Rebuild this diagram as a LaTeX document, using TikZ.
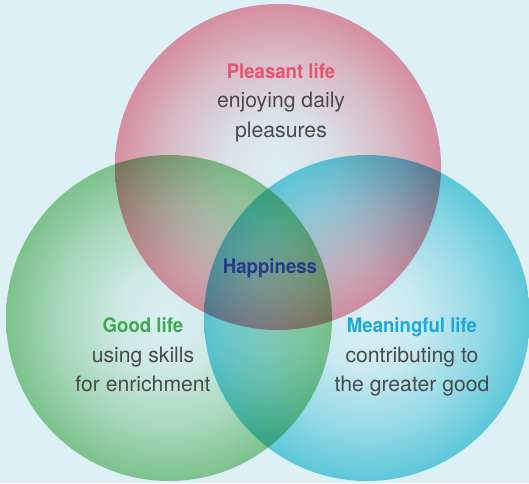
\documentclass[tikz,border=0pt]{standalone}
\usepackage{fontspec}
\setmainfont{TeX Gyre Heros}
\newfontfamily\titlefont[FakeStretch=0.93]{TeX Gyre Heros}
\usetikzlibrary{shadings}
\definecolor{bgC}{HTML}{DCF0F5}
\definecolor{pinkC}{HTML}{F898A7}
\definecolor{greenC}{HTML}{90CF92}
\definecolor{cyanC}{HTML}{6BD4E3}
\definecolor{pleasantC}{HTML}{EC5270}
\definecolor{goodC}{HTML}{3DAA4B}
\definecolor{meanC}{HTML}{1AA8E0}
\definecolor{happyC}{HTML}{283A86}
\definecolor{bodyC}{HTML}{4A4A4A}
\pgfdeclareradialshading{pinkball}{\pgfpoint{0bp}{0bp}}{color(0bp)=(white); color(8bp)=(pinkC!15!white); color(17bp)=(pinkC!55!white); color(25bp)=(pinkC); color(50bp)=(pinkC)}
\pgfdeclareradialshading{greenball}{\pgfpoint{0bp}{0bp}}{color(0bp)=(white); color(8bp)=(greenC!15!white); color(17bp)=(greenC!55!white); color(25bp)=(greenC); color(50bp)=(greenC)}
\pgfdeclareradialshading{cyanball}{\pgfpoint{0bp}{0bp}}{color(0bp)=(white); color(8bp)=(cyanC!15!white); color(17bp)=(cyanC!55!white); color(25bp)=(cyanC); color(50bp)=(cyanC)}
\tikzset{
  ball/.style={blend mode=multiply},
  title/.style={anchor=base, inner sep=0pt, font=\titlefont\bfseries\fontsize{20}{24}\selectfont},
  bodytext/.style={anchor=base, inner sep=0pt, text=bodyC, font=\fontsize{21.2}{24}\selectfont},
}
\begin{document}
\begin{tikzpicture}[x=1pt,y=-1pt]
\useasboundingbox (0,0) rectangle (529,483);
\clip (0,0) rectangle (529,483);
\fill[bgC] (0,0) rectangle (529,483);
\shade[ball, shading=pinkball] (278,167) circle (163pt);
\shade[ball, shading=greenball] (169,318) circle (163pt);
\shade[ball, shading=cyanball] (367,318) circle (163pt);

\node[title, text=pleasantC] (pt) at (281,78) {Pleasant life};
\node[bodytext] (p1) at (281,107) {enjoying daily};
\node[bodytext] (p2) at (281,137) {pleasures};

\node[title, text=happyC] (hp) at (270,273) {Happiness};

\node[title, text=goodC] (gt) at (143,332) {Good life};
\node[bodytext] (g1) at (143,362) {using skills};
\node[bodytext] (g2) at (143,391) {for enrichment};

\node[title, text=meanC] (mt) at (412,332) {Meaningful life};
\node[bodytext] (m1) at (412,362) {contributing to};
\node[bodytext] (m2) at (412,391) {the greater good};
\end{tikzpicture}
\end{document}
